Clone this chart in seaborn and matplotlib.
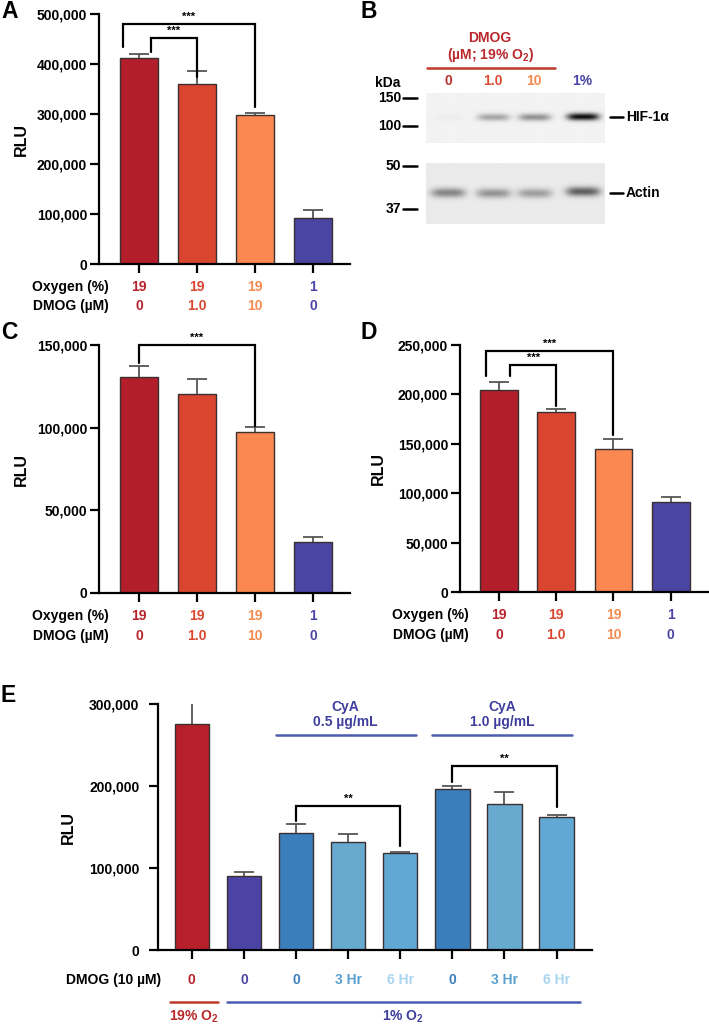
import numpy as np
import matplotlib
matplotlib.use("Agg")
import matplotlib.pyplot as plt
from matplotlib.lines import Line2D
from matplotlib.ticker import FuncFormatter
import seaborn as sns

sns.set_style("ticks")
plt.rcParams['font.family'] = ['Liberation Sans', 'DejaVu Sans']
plt.rcParams['font.weight'] = 'bold'
plt.rcParams['text.color'] = 'black'
plt.rcParams['axes.labelcolor'] = 'black'
plt.rcParams['xtick.color'] = 'black'
plt.rcParams['ytick.color'] = 'black'
plt.rcParams['mathtext.fontset'] = 'custom'
plt.rcParams['mathtext.rm'] = 'Liberation Sans:bold'
plt.rcParams['mathtext.bf'] = 'Liberation Sans:bold'
plt.rcParams['mathtext.it'] = 'Liberation Sans:bold'

# ---- data ----
# panels A, C, D: 4 conditions
oxygen_labels = ["19", "19", "19", "1"]
dmog_labels = ["0", "1.0", "10", "0"]
abcd_colors = ["#B21F2B", "#DA4530", "#FA8850", "#4A44A3"]
abcd_text_colors = ["#B5222C", "#D9452F", "#F58A50", "#4B44A5"]

a_vals = [413000, 361000, 297500, 92500]
a_err = [8000, 25000, 5000, 16000]
c_vals = [130500, 120500, 97500, 30800]
c_err = [6800, 8700, 3200, 3200]
d_vals = [204000, 182400, 145000, 91000]
d_err = [8800, 3100, 9400, 5300]

# panel E: 8 conditions
e_labels = ["0", "0", "0", "3 Hr", "6 Hr", "0", "3 Hr", "6 Hr"]
e_vals = [275600, 90700, 142300, 131700, 118800, 195900, 177600, 162600]
e_err = [26000, 4000, 11000, 9300, 1200, 4500, 15500, 2000]
e_colors = ["#B71F2A", "#4B44A5", "#3A7EBC", "#68A9CF", "#62A8D5", "#3A7EBC", "#68A9CF", "#62A8D5"]
e_text_colors = ["#B5222C", "#4B44A5", "#3A7EBC", "#5AA0CE", "#A9D5EE", "#3A7EBC", "#5AA0CE", "#A9D5EE"]

# western blot (panel B): relative band strength per lane
lane_labels = ["0", "1.0", "10", "1%"]
lane_colors = ["#B5322A", "#DC4B30", "#F58A50", "#4B44A5"]
hif_levels = [0.02, 0.30, 0.38, 0.90]
actin_levels = [0.40, 0.34, 0.30, 0.55]
kda_marks = ["150", "100", "50", "37"]

W, H = 709, 1025
fig = plt.figure(figsize=(W / 100, H / 100), dpi=100)


def fx(x):
    return x / W


def fy(y):
    return 1 - y / H


def ax_px(left, top, right, bottom):
    return fig.add_axes([fx(left), fy(bottom), (right - left) / W, (bottom - top) / H])


def bar_panel(ax, vals, errs, colors, ymax, step, xlim, ypad=2):
    ids = ["b%d" % i for i in range(len(vals))]
    sns.barplot(x=ids, y=vals, hue=ids, palette=colors, legend=False, width=0.66,
                edgecolor="#3b2f2f", linewidth=1.0, saturation=1, ax=ax)
    eb = ax.errorbar(range(len(vals)), vals, yerr=[np.zeros(len(errs)), errs], fmt="none",
                     ecolor="#555555", elinewidth=1.3, capsize=7, capthick=1.3, zorder=3)
    eb[1][0].set_visible(False)  # no cap at the bar top
    ax.set_ylim(0, ymax)
    ax.set_xlim(*xlim)
    ax.set_yticks(np.arange(0, ymax + 1, step))
    ax.yaxis.set_major_formatter(FuncFormatter(lambda v, p: f"{int(v):,}"))
    ax.set_xticks(range(len(vals)))
    ax.set_xticklabels([])
    ax.set_xlabel("")
    ax.set_ylabel("RLU", fontsize=11.5, fontweight="bold")
    for s in ["top", "right"]:
        ax.spines[s].set_visible(False)
    for s in ["left", "bottom"]:
        ax.spines[s].set_linewidth(1.6)
        ax.spines[s].set_color("black")
    ax.tick_params(axis="both", direction="out", length=6.5, width=1.6, color="black")
    ax.tick_params(axis="y", labelsize=10, pad=ypad)
    for t in ax.get_yticklabels():
        t.set_fontweight("bold")
    ax.grid(False)


def cat_labels(ax, rows, colors, offsets):
    for labels, off in zip(rows, offsets):
        for i, lab in enumerate(labels):
            ax.annotate(lab, xy=(i, 0), xycoords=("data", "axes fraction"),
                        xytext=(0, -off), textcoords="offset pixels", ha="center",
                        va="center", color=colors[i], fontsize=10, fontweight="bold",
                        annotation_clip=False)


def bracket(ax, x1, x2, y, y1, y2, stars):
    ax.plot([x1, x1, x2, x2], [y1, y, y, y2], color="black", lw=1.6, clip_on=False,
            solid_joinstyle="miter", zorder=4)
    ax.annotate(stars, xy=((x1 + x2) / 2, y), xytext=(0, 2), textcoords="offset pixels",
                ha="center", va="bottom", fontsize=8, fontweight="bold",
                annotation_clip=False)


def panel_letter(x, y, s):
    fig.text(fx(x), fy(y), s, fontsize=16.5, fontweight="bold", ha="left", va="center")


def row_head(x, y, s):
    fig.text(fx(x), fy(y), s, ha="right", va="center", fontsize=10, fontweight="bold")


# ---- panel A ----
axA = ax_px(99, 14, 350, 264)
bar_panel(axA, a_vals, a_err, abcd_colors, 500000, 100000, (-0.69, 3.64))
axA.yaxis.set_label_coords(-70 / 251, 0.5)
bracket(axA, -0.28, 2, 481000, 435000, 315000, "***")
bracket(axA, 0.2, 1, 453000, 425000, 375000, "***")
cat_labels(axA, [oxygen_labels, dmog_labels], abcd_text_colors, [23, 42])
row_head(109, 287, "Oxygen (%)")
row_head(109, 306, "DMOG (µM)")
panel_letter(1, 11, "A")

# ---- panel C ----
axC = ax_px(99, 345, 350, 593)
bar_panel(axC, c_vals, c_err, abcd_colors, 150000, 50000, (-0.69, 3.64))
axC.yaxis.set_label_coords(-70 / 251, 0.5)
bracket(axC, 0, 2, 150000, 139000, 101000, "***")
cat_labels(axC, [oxygen_labels, dmog_labels], abcd_text_colors, [23, 43])
row_head(109, 616, "Oxygen (%)")
row_head(109, 636, "DMOG (µM)")
panel_letter(1, 332, "C")

# ---- panel D ----
axD = ax_px(460, 345, 708, 592)
bar_panel(axD, d_vals, d_err, abcd_colors, 250000, 50000, (-0.68, 3.65))
axD.yaxis.set_label_coords(-74 / 248, 0.5)
bracket(axD, -0.23, 2, 244000, 219000, 159000, "***")
bracket(axD, 0.2, 1, 230000, 219000, 188000, "***")
cat_labels(axD, [oxygen_labels, dmog_labels], abcd_text_colors, [23, 43])
row_head(469, 615, "Oxygen (%)")
row_head(469, 635, "DMOG (µM)")
panel_letter(361, 332, "D")

# ---- panel E ----
axE = ax_px(158, 704, 592, 950)
bar_panel(axE, e_vals, e_err, e_colors, 300000, 100000, (-0.65, 7.68), ypad=7)
axE.yaxis.set_label_coords(-82 / 434, 0.5)
bracket(axE, 2, 4, 176000, 157000, 127000, "**")
bracket(axE, 5, 7, 224000, 205000, 174000, "**")
cat_labels(axE, [e_labels], e_text_colors, [30])
row_head(161, 980, "DMOG (10 µM)")
# CyA group headers
for (x1, x2, xc, dose) in [(1.61, 4.30, 3, "0.5 µg/mL"), (4.61, 7.29, 6, "1.0 µg/mL")]:
    axE.plot([x1, x2], [262000, 262000], color="#4A5DB0", lw=1.8, clip_on=False)
    axE.text(xc - 0.05, 296000, "CyA", ha="center", va="center", color="#3F3E9E",
             fontsize=10, fontweight="bold", clip_on=False)
    axE.text(xc - 0.05, 277500, dose, ha="center", va="center", color="#3F3E9E",
             fontsize=10, fontweight="bold", clip_on=False)
# oxygen group lines below the axis
tr = axE.get_xaxis_transform()
axE.plot([-0.42, 0.5], [-52 / 246, -52 / 246], transform=tr, color="#C0392B", lw=1.8, clip_on=False)
axE.plot([0.67, 7.45], [-52 / 246, -52 / 246], transform=tr, color="#4A5DB0", lw=1.8, clip_on=False)
axE.text(0.04, -67 / 246, "19% O$_2$", transform=tr, ha="center", va="center",
         color="#B82A2A", fontsize=10, clip_on=False)
axE.text(4.06, -67 / 246, "1% O$_2$", transform=tr, ha="center", va="center",
         color="#3F3E9E", fontsize=10, clip_on=False)
panel_letter(1, 696, "E")

# ---- panel B: western blot ----
lane_x = [448, 493, 534, 582]


def blot_strip(top, bottom, band_y, levels, bg, wx, wy, shifts):
    left, right = 426, 604
    ax = ax_px(left, top, right, bottom)
    xs = np.arange(left, right, 0.5)
    ys = np.arange(top, bottom, 0.5)
    X, Y = np.meshgrid(xs, ys)
    img = np.full(X.shape, bg)
    for lx, lev, sh in zip(lane_x, levels, shifts):
        img -= lev * np.exp(-((X - lx) / wx) ** 4) * np.exp(-((Y - band_y - sh) / wy) ** 2)
    img = np.clip(img, 0, 1)
    ax.imshow(img, cmap="gray", vmin=0, vmax=1, aspect="auto", interpolation="bilinear")
    ax.set_axis_off()
    return ax


blot_strip(93, 143, 117, hif_levels, 0.95, 16, 3.6, [0, 0, 0, -0.5])
blot_strip(163, 224, 193, actin_levels, 0.92, 17, 4.6, [0, 0.5, 0.5, -1.2])

fig.text(fx(490), fy(38), "DMOG", ha="center", va="center", color="#B8282C", fontsize=10)
fig.text(fx(490), fy(55), "(µM; 19% O$_2$)", ha="center", va="center", color="#B8282C", fontsize=10)
fig.add_artist(Line2D([fx(427), fx(555)], [fy(68), fy(68)], color="#C0392B", lw=1.8))
for lx, lab, col in zip(lane_x, lane_labels, lane_colors):
    fig.text(fx(lx), fy(81), lab, ha="center", va="center", color=col, fontsize=10)
fig.text(fx(375), fy(83), "kDa", ha="left", va="center", fontsize=10)
for lab, yy in zip(kda_marks, [98, 126, 166, 209]):
    fig.text(fx(401), fy(yy), lab, ha="right", va="center", fontsize=10)
    fig.add_artist(Line2D([fx(403), fx(417)], [fy(yy), fy(yy)], color="black", lw=1.8))
for lab, yy in [("HIF-1α", 117), ("Actin", 193)]:
    fig.add_artist(Line2D([fx(610), fx(623)], [fy(yy), fy(yy)], color="black", lw=1.8))
    fig.text(fx(626), fy(yy), lab, ha="left", va="center", fontsize=10)
panel_letter(361, 11, "B")

fig.savefig("out.png", dpi=100)
